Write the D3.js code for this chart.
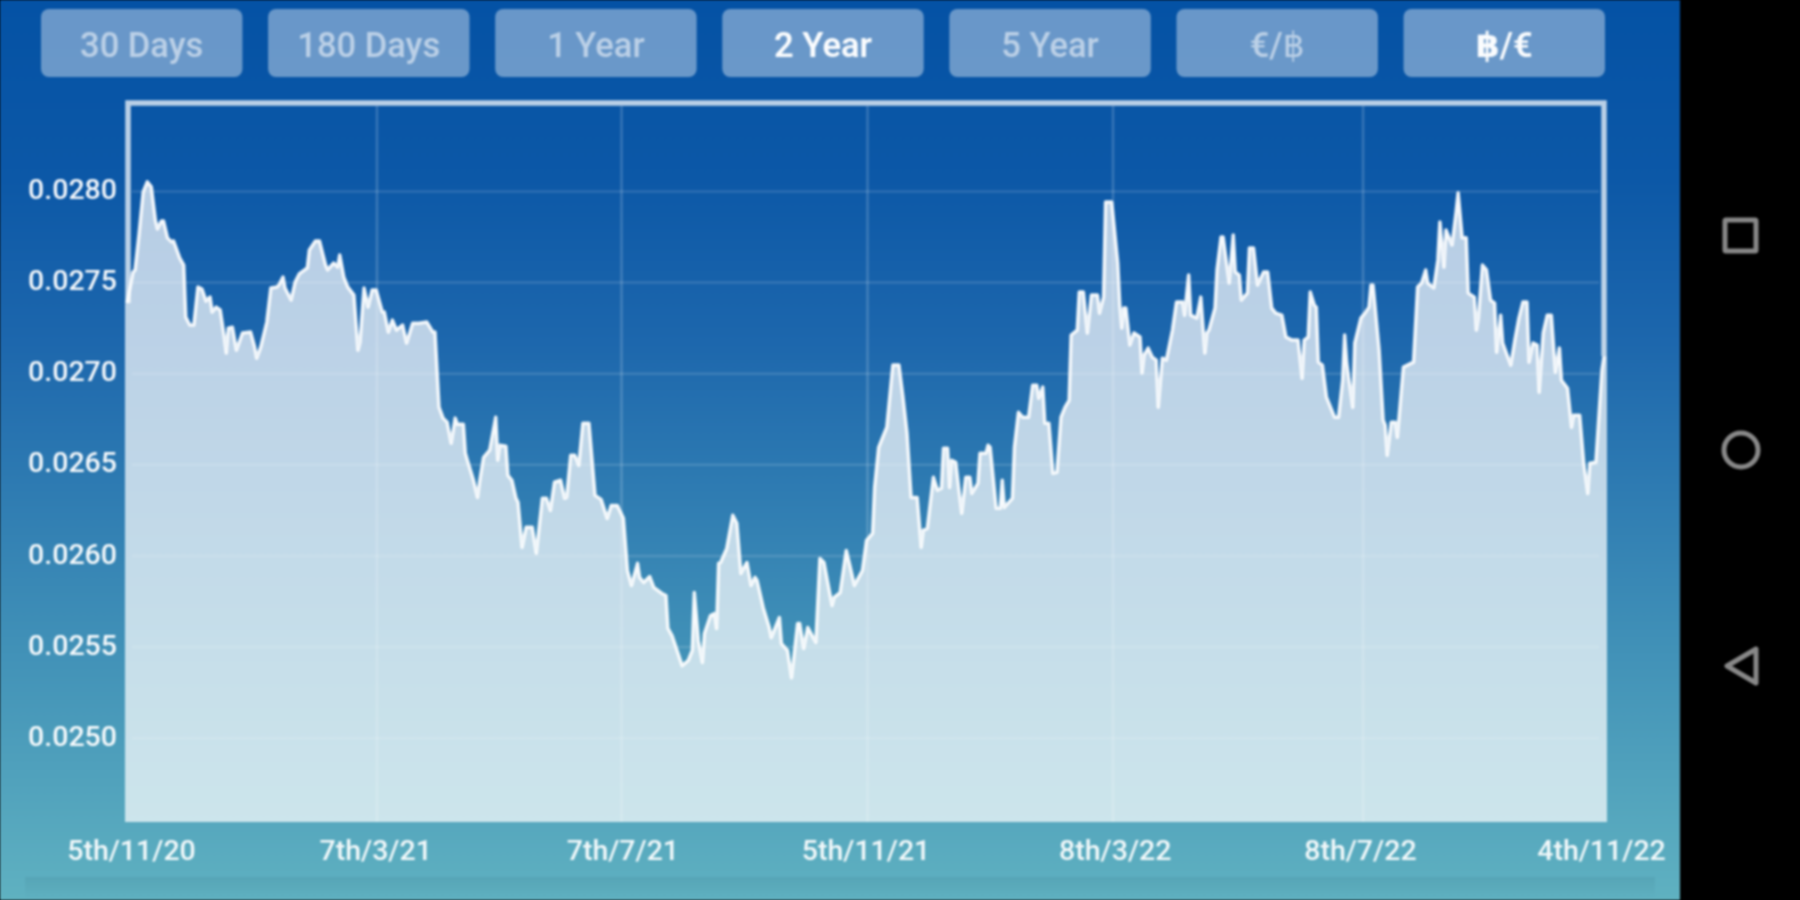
<!DOCTYPE html>
<html>
<head>
<meta charset="utf-8">
<script src="https://cdnjs.cloudflare.com/ajax/libs/d3/7.8.5/d3.min.js"></script>
<style>
html,body{margin:0;padding:0;background:#000;overflow:hidden}
svg{display:block;filter:blur(1.1px)}
text{font-family:Roboto,"DejaVu Sans",sans-serif}
</style>
</head>
<body>
<svg id="c" width="1800" height="900"></svg>
<script>
const startDate = "2020-11-05";
const endDate = "2022-11-04";
const dayOffsets = [
0,3,4,6,8,10,12,14,15,17,18,20,22,23,26,28,29,31,33,35,
37,39,41,42,44,46,48,49,50,52,54,57,61,63,64,66,69,71,74,75,
77,78,81,83,85,89,90,93,95,98,99,102,104,105,107,109,112,114,115,117,
119,121,123,126,127,129,131,133,136,138,141,144,148,151,152,154,156,158,160,162,
163,166,167,168,171,173,174,176,179,182,183,184,187,188,190,192,193,195,197,200,
202,205,207,209,211,214,216,217,219,221,223,225,228,231,234,237,239,242,245,247,
249,252,253,255,258,260,264,266,267,269,274,277,279,280,282,284,285,288,290,291,
292,293,296,299,301,303,306,308,310,311,314,317,318,322,323,326,328,331,332,334,
336,340,342,344,348,349,352,355,357,359,363,365,368,369,371,373,375,378,381,383,
385,387,390,392,393,395,398,400,402,403,405,406,407,409,412,414,416,417,420,421,
424,425,426,429,431,432,433,437,438,440,442,445,447,449,450,452,453,455,457,459,
461,463,465,466,469,470,472,474,476,479,480,482,483,486,489,490,491,492,493,495,
497,500,501,502,504,506,508,509,511,513,516,518,521,522,524,525,528,530,532,533,
534,537,538,540,541,544,546,547,549,550,553,554,556,558,561,563,565,567,570,572,
575,578,580,581,583,584,586,587,588,590,592,594,596,598,600,601,602,604,605,606,
609,611,613,614,615,618,620,621,622,624,626,627,629,630,635,637,639,641,642,645,
647,648,650,651,654,656,657,659,661,662,665,666,667,669,671,673,675,676,678,679,
683,685,687,689,691,692,694,696,697,699,701,703,705,707,708,711,713,714,717,719,
721,722,725,727,728,729
];
const rates = [
0.027387,0.027558,0.027569,0.027772,0.027997,0.028052,0.028025,0.027843,0.027794,0.027838,0.027838,0.027745,0.027723,0.027728,0.027635,0.027596,0.027310,0.027267,0.027267,0.027475,
0.027464,0.027398,0.027420,0.027338,0.027365,0.027349,0.027201,0.027113,0.027250,0.027255,0.027129,0.027223,0.027228,0.027146,0.027085,0.027146,0.027283,0.027470,0.027475,0.027486,
0.027530,0.027470,0.027404,0.027503,0.027547,0.027580,0.027679,0.027728,0.027728,0.027596,0.027569,0.027607,0.027585,0.027651,0.027530,0.027475,0.027431,0.027129,0.027173,0.027470,
0.027365,0.027459,0.027459,0.027338,0.027338,0.027228,0.027294,0.027239,0.027267,0.027168,0.027277,0.027277,0.027283,0.027228,0.027228,0.026816,0.026756,0.026734,0.026618,0.026756,
0.026723,0.026723,0.026563,0.026525,0.026415,0.026321,0.026404,0.026541,0.026580,0.026761,0.026525,0.026607,0.026602,0.026442,0.026415,0.026316,0.026294,0.026047,0.026157,0.026157,
0.026014,0.026316,0.026316,0.026250,0.026404,0.026415,0.026316,0.026321,0.026552,0.026552,0.026497,0.026728,0.026728,0.026332,0.026310,0.026206,0.026277,0.026277,0.026206,0.025920,
0.025838,0.025959,0.025882,0.025854,0.025887,0.025827,0.025794,0.025783,0.025602,0.025563,0.025398,0.025426,0.025481,0.025799,0.025536,0.025415,0.025574,0.025673,0.025684,0.025602,
0.025959,0.025964,0.026041,0.026223,0.026179,0.025904,0.025964,0.025838,0.025882,0.025865,0.025717,0.025607,0.025552,0.025662,0.025519,0.025481,0.025332,0.025629,0.025629,0.025492,
0.025607,0.025525,0.025986,0.025964,0.025728,0.025772,0.025799,0.026030,0.025937,0.025838,0.025920,0.026085,0.026124,0.026376,0.026596,0.026651,0.026706,0.027047,0.027047,0.026871,
0.026673,0.026321,0.026321,0.026047,0.026140,0.026151,0.026431,0.026360,0.026371,0.026591,0.026591,0.026376,0.026525,0.026514,0.026234,0.026431,0.026431,0.026343,0.026398,0.026563,
0.026563,0.026607,0.026596,0.026261,0.026261,0.026415,0.026266,0.026316,0.026596,0.026788,0.026761,0.026761,0.026937,0.026937,0.026865,0.026926,0.026728,0.026728,0.026453,0.026459,
0.026761,0.026816,0.026854,0.027212,0.027239,0.027448,0.027448,0.027223,0.027431,0.027431,0.027332,0.027420,0.027942,0.027942,0.027607,0.027376,0.027250,0.027360,0.027360,0.027157,
0.027223,0.027201,0.027003,0.027102,0.027140,0.027091,0.027074,0.026816,0.027085,0.027074,0.027239,0.027393,0.027393,0.027321,0.027541,0.027321,0.027305,0.027420,0.027113,0.027223,
0.027239,0.027360,0.027569,0.027750,0.027750,0.027497,0.027761,0.027558,0.027541,0.027404,0.027442,0.027690,0.027690,0.027486,0.027558,0.027558,0.027360,0.027332,0.027321,0.027201,
0.027184,0.027184,0.026975,0.027184,0.027201,0.027448,0.027376,0.027365,0.027063,0.027047,0.026871,0.026816,0.026761,0.026761,0.026964,0.027212,0.027058,0.026898,0.026816,0.027168,
0.027305,0.027332,0.027365,0.027486,0.027486,0.027129,0.026745,0.026717,0.026552,0.026734,0.026734,0.026651,0.026909,0.027036,0.027063,0.027475,0.027497,0.027569,0.027497,0.027470,
0.027624,0.027832,0.027585,0.027788,0.027706,0.027887,0.027992,0.027745,0.027745,0.027442,0.027420,0.027239,0.027305,0.027596,0.027569,0.027404,0.027387,0.027118,0.027321,0.027168,
0.027047,0.027184,0.027305,0.027393,0.027393,0.027063,0.027168,0.027157,0.026898,0.027223,0.027321,0.027321,0.027008,0.027140,0.026964,0.026920,0.026706,0.026772,0.026772,0.026508,
0.026343,0.026508,0.026514,0.026854,0.027019,0.027096
];
const yTicks = [0.0280,0.0275,0.0270,0.0265,0.0260,0.0255,0.0250];
const xTickDates = ["2020-11-05","2021-03-07","2021-07-07","2021-11-05","2022-03-08","2022-07-08","2022-11-04"];
const xTickLabels = ["5th/11/20","7th/3/21","7th/7/21","5th/11/21","8th/3/22","8th/7/22","4th/11/22"];
const gridDayOffsets = [123.4,244.1,365.5,486.7,610.1];
const buttonLabels = ["30 Days","180 Days","1 Year","2 Year","5 Year","€/฿","฿/€"];
const activeButtons = ["2 Year","฿/€"];
const bgStops = [[0,"#0452a5"],[0.2,"#0c58a7"],[0.38,"#1d67ad"],[0.7,"#3f8fb7"],[1,"#60b2c1"]];

const svg = d3.select("#c");
const screenW = 1680, H = 900;
const plot = {l:127,r:1604,t:103,b:822};
const parse = d3.utcParse("%Y-%m-%d");
const start = parse(startDate);

const x = d3.scaleUtc().domain([start,parse(endDate)]).range([plot.l,plot.r]);
const y = d3.scaleLinear().domain([0.02454,0.028485]).range([plot.b,plot.t]);
const series = d3.zip(dayOffsets,rates).map(([d,v])=>({date:d3.utcDay.offset(start,d),v}));
const firstY = y(rates[0]), lastY = y(rates[rates.length-1]);

const defs = svg.append("defs");
const bg = defs.append("linearGradient").attr("id","bg").attr("x1",0).attr("x2",0).attr("y1",0).attr("y2",1);
bgStops.forEach(s=>bg.append("stop").attr("offset",s[0]).attr("stop-color",s[1]));
const sh = defs.append("linearGradient").attr("id","sh").attr("x1",0).attr("x2",0).attr("y1",0).attr("y2",1);
sh.append("stop").attr("offset",0).attr("stop-color","#3f8090").attr("stop-opacity",0.2);
sh.append("stop").attr("offset",1).attr("stop-color","#3f8090").attr("stop-opacity",0);

svg.append("rect").attr("x",-5).attr("y",-5).attr("width",1810).attr("height",H+10).attr("fill","#000");
svg.append("rect").attr("x",-5).attr("y",-5).attr("width",screenW+5).attr("height",H+10).attr("fill","url(#bg)");
svg.append("rect").attr("x",25).attr("y",877).attr("width",screenW-50).attr("height",23).attr("fill","url(#sh)");

// buttons
const band = d3.scaleBand().domain(buttonLabels).range([41,1605]).paddingInner(0.113);
const btn = svg.append("g").selectAll("g").data(buttonLabels).join("g")
  .attr("transform",d=>`translate(${band(d)},9)`);
btn.append("rect").attr("width",band.bandwidth()).attr("height",68).attr("rx",8)
  .attr("fill","#fff").attr("fill-opacity",0.4);
btn.append("text").attr("x",band.bandwidth()/2).attr("y",47.5).attr("text-anchor","middle")
  .attr("font-size",34.5)
  .attr("font-weight",d=>activeButtons.includes(d)?600:500)
  .attr("fill","#fff").attr("fill-opacity",d=>activeButtons.includes(d)?0.97:0.55)
  .text(d=>d);

// frame: top and the parts of the sides above the area
svg.append("path")
  .attr("d",`M${plot.l+1},${firstY}V${plot.t}H${plot.r}V${lastY}`)
  .attr("fill","none").attr("stroke","#fff").attr("stroke-opacity",0.72).attr("stroke-width",5.5);

// area, with the plot's thin edge strips
svg.append("path").datum(series)
  .attr("d",d3.area().x(d=>x(d.date)).y0(plot.b).y1(d=>y(d.v)))
  .attr("fill","#fff").attr("fill-opacity",0.7);
svg.append("rect").attr("x",plot.l-2).attr("y",firstY).attr("width",2).attr("height",plot.b-firstY)
  .attr("fill","#fff").attr("fill-opacity",0.7);
svg.append("rect").attr("x",plot.r).attr("y",lastY).attr("width",3).attr("height",plot.b-lastY)
  .attr("fill","#fff").attr("fill-opacity",0.7);

// grid and axes
const yAxis = svg.append("g").attr("transform",`translate(${plot.l},0)`)
  .call(d3.axisLeft(y).tickValues(yTicks).tickFormat(d3.format(".4f")).tickSize(0).tickPadding(10));
yAxis.select(".domain").remove();
yAxis.selectAll("text").attr("font-size",28.5).attr("font-weight",500).attr("fill","#fff").attr("fill-opacity",0.95).attr("y",-2);
svg.append("g").selectAll("line").data(yTicks).join("line")
  .attr("x1",plot.l+5).attr("x2",plot.r-5).attr("y1",d=>y(d)).attr("y2",d=>y(d))
  .attr("stroke","#fff").attr("stroke-opacity",0.13).attr("stroke-width",2.5);

const tickDates = xTickDates.map(parse);
const labelNudge = [4,1,1,-1,-1,-3,-3];
const xAxis = svg.append("g").attr("transform",`translate(0,${plot.b})`)
  .call(d3.axisBottom(x).tickValues(tickDates).tickFormat((d,i)=>xTickLabels[i]).tickSize(0).tickPadding(18));
xAxis.select(".domain").remove();
xAxis.selectAll("text").attr("font-size",28.5).attr("font-weight",500).attr("fill","#fff").attr("fill-opacity",0.92)
  .attr("dx",(d,i)=>labelNudge[i]);
svg.append("g").selectAll("line").data(gridDayOffsets.map(d=>d3.utcHour.offset(start,d*24))).join("line")
  .attr("x1",d=>x(d)).attr("x2",d=>x(d)).attr("y1",plot.t+3).attr("y2",plot.b)
  .attr("stroke","#fff").attr("stroke-opacity",0.18).attr("stroke-width",2.5);

// line
svg.append("path").datum(series)
  .attr("d",d3.line().x(d=>x(d.date)).y(d=>y(d.v)))
  .attr("fill","none").attr("stroke","#fff").attr("stroke-opacity",0.9).attr("stroke-width",3.5).attr("stroke-linejoin","round");

// navigation bar icons
const nav = svg.append("g").attr("fill","none").attr("stroke","#888").attr("stroke-width",5);
nav.append("rect").attr("x",1725).attr("y",220).attr("width",31).attr("height",31).attr("rx",1);
nav.append("circle").attr("cx",1741).attr("cy",450).attr("r",17);
nav.append("path").attr("d","M1756,649 L1727,666 L1756,683 Z").attr("stroke-linejoin","round");
</script>
</body>
</html>
